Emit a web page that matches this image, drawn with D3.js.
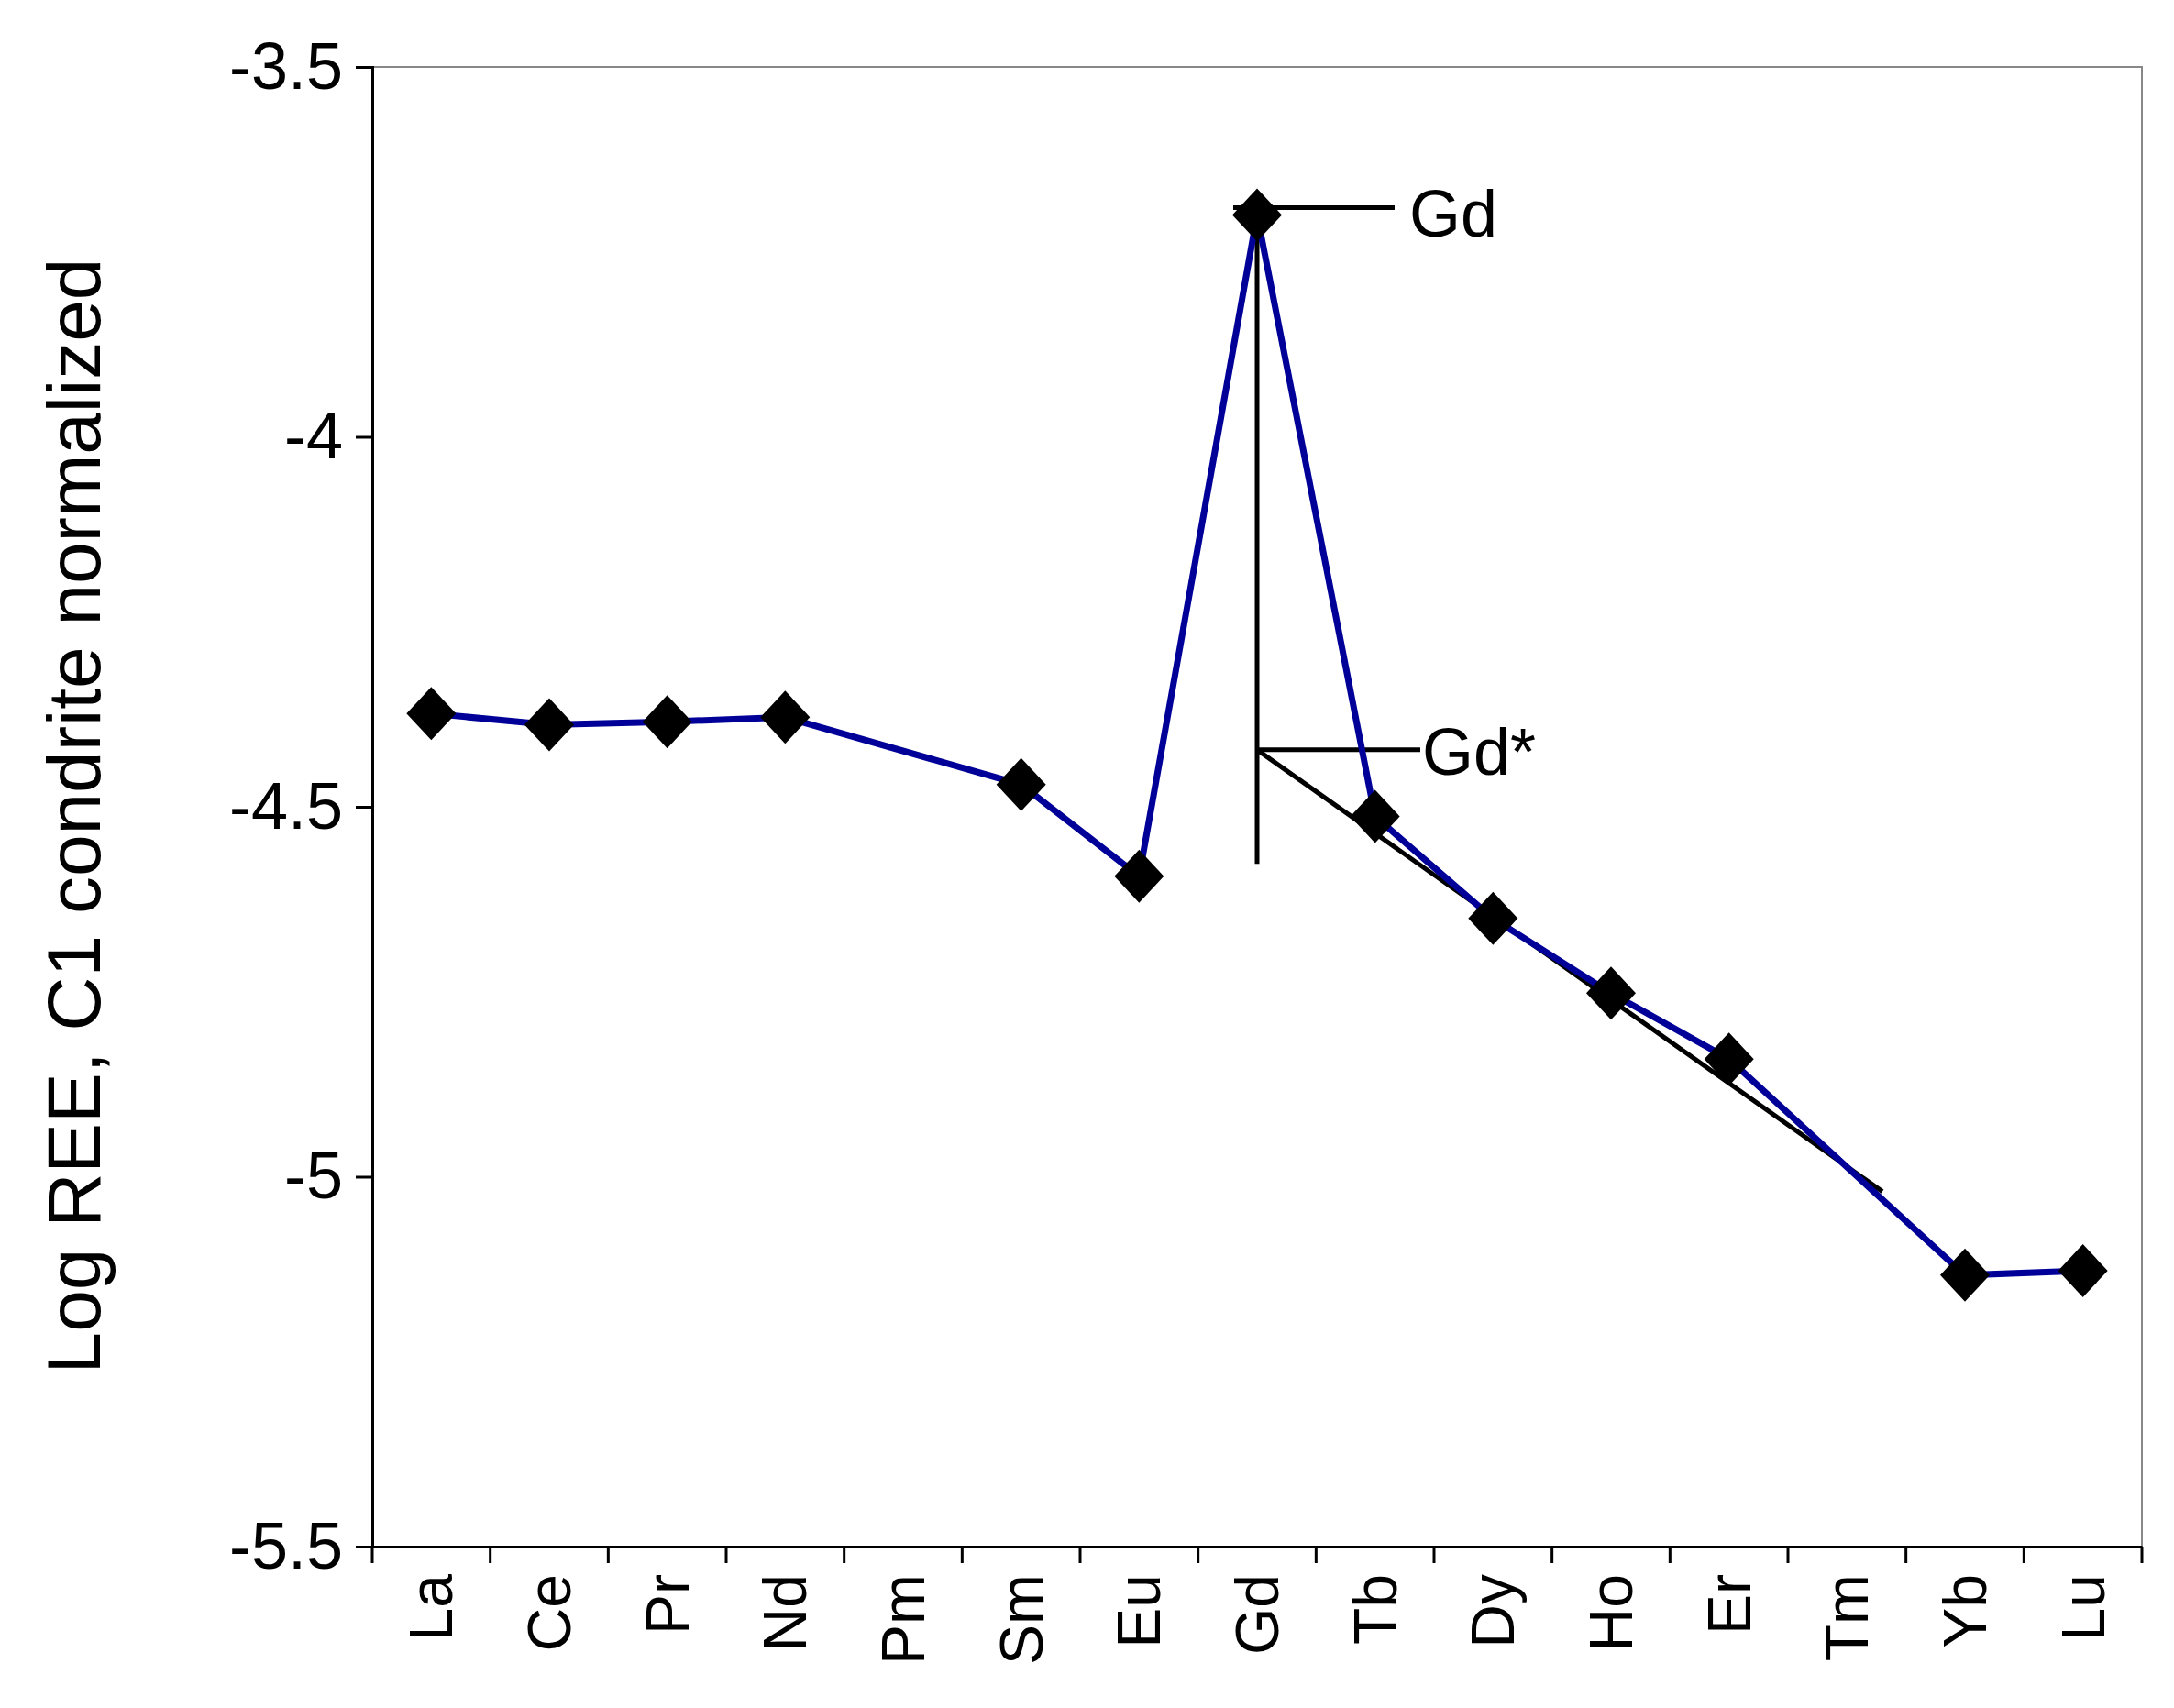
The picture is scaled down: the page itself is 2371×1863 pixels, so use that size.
<!DOCTYPE html>
<html><head><meta charset="utf-8">
<script src="https://cdn.jsdelivr.net/npm/d3@7"></script>
<style>body{margin:0;background:#fff}text{font-family:"Liberation Sans",Arial,sans-serif}</style>
</head><body><div id="chart"></div>
<script>
// REE pattern values (Pm and Tm missing)
const elements = ["La","Ce","Pr","Nd","Pm","Sm","Eu","Gd","Tb","Dy","Ho","Er","Tm","Yb","Lu"]
const logRee = [-4.374,-4.389,-4.385,-4.379,null,-4.470,-4.594,-3.700,-4.513,-4.651,-4.752,-4.841,null,-5.133,-5.127]
const yTicks = [-3.5,-4,-4.5,-5,-5.5]
const gdStar = -4.423
const gdStarEnd = {i: 12.3, v: -5.02}   // end of the interpolation line near Tm
const gdBarBottom = -4.577

let width = 2371, height = 1863
let m = {left: 406, right: 35, top: 73, bottom: 176}

let svg = d3.select("#chart").append("svg").attr("width", width).attr("height", height)

let x = d3.scaleBand().domain(elements).range([m.left, width - m.right])
let xi = i => m.left + x.step() * (i + 0.5)
let y = d3.scaleLinear().domain([-5.5, -3.5]).range([height - m.bottom, m.top])

// frame
svg.append("rect").attr("x", m.left).attr("y", m.top)
  .attr("width", width - m.left - m.right).attr("height", height - m.top - m.bottom)
  .attr("fill", "none").attr("stroke", "#888").attr("stroke-width", 2)

let yAxis = svg.append("g").attr("transform", `translate(${m.left},0)`)
  .call(d3.axisLeft(y).tickValues(yTicks).tickFormat(d => d).tickSize(18).tickPadding(14))
yAxis.select(".domain").attr("stroke", "#000").attr("stroke-width", 3)
yAxis.selectAll(".tick line").attr("stroke-width", 3)
yAxis.selectAll("text").attr("font-size", 72).attr("fill", "#000")

let xAxis = svg.append("g").attr("transform", `translate(0,${height - m.bottom})`)
  .call(d3.axisBottom(x).tickSize(0))
xAxis.select(".domain").attr("stroke", "#000").attr("stroke-width", 3)
xAxis.selectAll(".tick text").attr("font-size", 66).attr("fill", "#000")
  .attr("transform", "rotate(-90)").attr("text-anchor", "end")
  .attr("x", -30).attr("y", 0).attr("dy", "0.35em")
// boundary ticks between categories
svg.selectAll("line.bt").data(d3.range(elements.length + 1)).enter().append("line")
  .attr("x1", i => m.left + x.step() * i).attr("x2", i => m.left + x.step() * i)
  .attr("y1", height - m.bottom).attr("y2", height - m.bottom + 18)
  .attr("stroke", "#000").attr("stroke-width", 3)

svg.append("text").attr("transform", `translate(80,${(m.top + height - m.bottom) / 2 + 10}) rotate(-90)`)
  .attr("text-anchor", "middle").attr("dy", "0.35em").attr("font-size", 82).text("Log REE,  C1 condrite normalized")

let pts = elements.map((e, i) => ({e, i, v: logRee[i]})).filter(d => d.v !== null)

// Gd* construction lines
let gi = elements.indexOf("Gd")
svg.append("line").attr("x1", xi(gi)).attr("x2", xi(gi)).attr("y1", y(logRee[gi])).attr("y2", y(gdBarBottom))
  .attr("stroke", "#000").attr("stroke-width", 5)
svg.append("line").attr("x1", xi(gi)).attr("x2", xi(gdStarEnd.i)).attr("y1", y(gdStar)).attr("y2", y(gdStarEnd.v))
  .attr("stroke", "#000").attr("stroke-width", 5)
svg.append("line").attr("x1", xi(gi) - 26).attr("x2", xi(gi) + 150).attr("y1", y(logRee[gi]) - 8).attr("y2", y(logRee[gi]) - 8)
  .attr("stroke", "#000").attr("stroke-width", 5)
svg.append("line").attr("x1", xi(gi)).attr("x2", xi(gi) + 178).attr("y1", y(gdStar)).attr("y2", y(gdStar))
  .attr("stroke", "#000").attr("stroke-width", 5)
svg.append("text").attr("x", xi(gi) + 166).attr("y", y(logRee[gi]) - 2).attr("dy", "0.35em")
  .attr("font-size", 72).text("Gd")
svg.append("text").attr("x", xi(gi) + 180).attr("y", y(gdStar) + 2).attr("dy", "0.35em")
  .attr("font-size", 72).text("Gd*")

// data line (gaps bridged like the original)
svg.append("path").datum(pts)
  .attr("d", d3.line().x(d => xi(d.i)).y(d => y(d.v)))
  .attr("fill", "none").attr("stroke", "#000099").attr("stroke-width", 7)

svg.selectAll("path.pt").data(pts).enter().append("path")
  .attr("transform", d => `translate(${xi(d.i)},${y(d.v)})`)
  .attr("d", "M0,-29L27,0L0,29L-27,0Z").attr("fill", "#000")
</script></body></html>
